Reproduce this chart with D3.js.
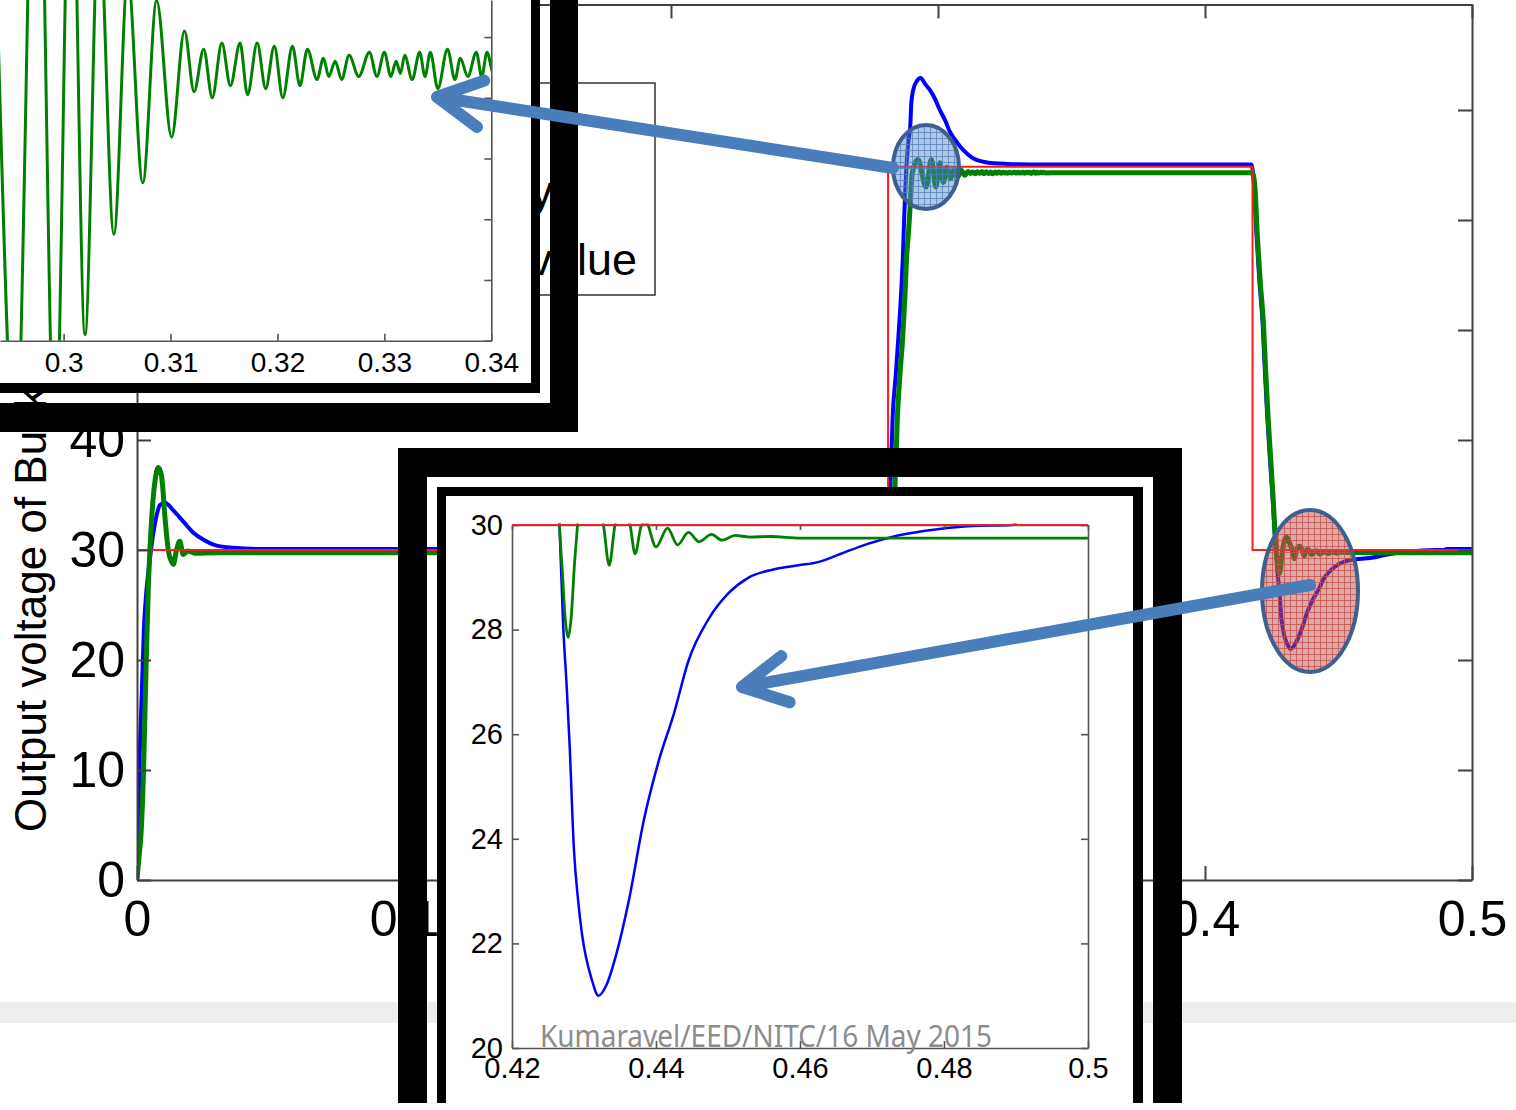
<!DOCTYPE html>
<html>
<head>
<meta charset="utf-8">
<script src="https://cdn.jsdelivr.net/npm/d3@7"></script>
<style>
  html, body { margin: 0; padding: 0; background: #fff; }
  svg { display: block; }
</style>
</head>
<body>
<svg id="slide" width="1516" height="1110"></svg>
<script>
// ticks
const mainXTicks = [0, 0.1, 0.2, 0.3, 0.4, 0.5];
const mainYTicks = [0, 10, 20, 30, 40, 50, 60, 70];
const zoom1XTicks = [0.3, 0.31, 0.32, 0.33, 0.34];
const zoom1YTicks = [63.4, 63.6, 63.8, 64.0, 64.2, 64.4];
const zoom2XTicks = [0.42, 0.44, 0.46, 0.48, 0.5];
const zoom2YTicks = [20, 22, 24, 26, 28, 30];

const legendLabels = ["PID", "Fuzzy", "Reference value"];
const yLabel = "Output voltage of Buck converter (V)";
const footer = "Kumaravel/EED/NITC/16 May 2015";

// reference voltage [t (s), V]
const redPts = [[0, 30], [0.2813, 30], [0.2813, 64.85], [0.4178, 64.85], [0.4178, 30], [0.5, 30]];

// blue trace
const bluePts = [
  [0, 0], [0.0004, 4.5], [0.001, 11.2], [0.0018, 17], [0.0026, 22.9], [0.0036, 26.5], [0.0045, 28.5],
  [0.0055, 30.5], [0.0061, 31.5], [0.0075, 33.3], [0.0086, 34.1], [0.0105, 34.3], [0.0136, 33.6],
  [0.0173, 32.6], [0.021, 31.6], [0.0248, 30.95], [0.0298, 30.4], [0.036, 30.2], [0.045, 30.1],
  [0.2816, 30.1], [0.2822, 36], [0.283, 42], [0.2842, 46], [0.2852, 49.5], [0.2861, 53], [0.2868, 56.5],
  [0.2874, 60.6], [0.2881, 64.5], [0.2887, 66.7], [0.2896, 68.5], [0.29, 70.6], [0.2907, 71.8],
  [0.292, 72.6], [0.2935, 72.9], [0.2951, 72.4], [0.297, 71.8], [0.2989, 71], [0.3007, 70],
  [0.3026, 69.1], [0.3045, 68], [0.3064, 67.3], [0.3082, 66.7], [0.3108, 66.05], [0.3133, 65.6],
  [0.317, 65.3], [0.3208, 65.15], [0.3258, 65.1], [0.34, 65.05],
  [0.4174, 65.05], [0.4183, 63.3], [0.4193, 58.6], [0.4203, 54.7], [0.4216, 50.5], [0.4224, 46.4],
  [0.4233, 42.2], [0.4243, 38.3], [0.4254, 34.4], [0.4261, 31.6], [0.4266, 30], [0.4271, 28.1],
  [0.4276, 26.9], [0.428, 25.8], [0.4286, 23.8], [0.4292, 22.8], [0.4297, 22.2], [0.4311, 21.3],
  [0.432, 21.0], [0.4331, 21.2], [0.4345, 21.8], [0.4362, 22.8], [0.4383, 24.35], [0.4404, 25.5],
  [0.4425, 26.4], [0.4445, 27.4], [0.4473, 28.2], [0.4501, 28.7], [0.4528, 28.99], [0.4563, 29.15],
  [0.4598, 29.23], [0.4625, 29.29], [0.4653, 29.43], [0.4694, 29.64], [0.4736, 29.8], [0.4791, 29.92],
  [0.4839, 29.98], [0.4895, 30.0], [0.4905, 30.1], [0.5, 30.1]
];

// green trace
const greenPts = [
  [0, 0], [0.0005, 1.45], [0.0017, 5], [0.0024, 9.5], [0.003, 15.4], [0.0036, 21.2], [0.0043, 27],
  [0.0055, 32.9], [0.0067, 36.2], [0.008, 37.5], [0.0092, 36.7], [0.0105, 32.9], [0.0117, 30],
  [0.013, 28.9], [0.0136, 28.7], [0.0148, 30], [0.016, 30.8], [0.0173, 29.6], [0.019, 29.9],
  [0.022, 29.7], [0.03, 29.75],
  [0.2831, 29.75], [0.2839, 35.8], [0.2848, 42.1], [0.2858, 46.1], [0.2868, 49.4], [0.2876, 53],
  [0.2882, 56.4], [0.2891, 59.4], [0.2897, 61.8], [0.2903, 64.2],
  [0.2925, 65.5], [0.2955, 63.0], [0.2975, 65.5], [0.2992, 63.0], [0.3007, 65.2], [0.302, 63.42],
  [0.3033, 64.8], [0.3047, 63.75], [0.306, 64.6], [0.3074, 63.92], [0.3087, 64.52], [0.3101, 64.07],
  [0.3113, 64.42], [0.3122, 64.22], [0.3131, 64.36], [0.3139, 64.2], [0.3148, 64.38], [0.3156, 64.24],
  [0.3165, 64.38], [0.3172, 64.21], [0.3181, 64.38], [0.3189, 64.23], [0.3197, 64.37], [0.3205, 64.2],
  [0.3214, 64.37], [0.3221, 64.24], [0.3228, 64.36], [0.3237, 64.26], [0.3243, 64.33], [0.3248, 64.27],
  [0.3254, 64.32], [0.326, 64.26], [0.3267, 64.34], [0.3276, 64.27], [0.3286, 64.35], [0.3293, 64.27],
  [0.33, 64.35], [0.3306, 64.27], [0.3311, 64.32], [0.3315, 64.28], [0.3319, 64.34], [0.3326, 64.26],
  [0.3333, 64.35], [0.3338, 64.27], [0.3343, 64.35], [0.335, 64.23], [0.3359, 64.36], [0.3366, 64.26],
  [0.3371, 64.33], [0.3378, 64.27], [0.3386, 64.35], [0.3391, 64.27], [0.3396, 64.35], [0.3402, 64.28],
  [0.345, 64.3],
  [0.4177, 64.3], [0.4186, 63.3], [0.4196, 58.6], [0.4206, 54.7], [0.4219, 50.5], [0.4227, 46.4],
  [0.4236, 42.2], [0.4246, 38.3], [0.4256, 34.4], [0.4262, 31.6], [0.4266, 30.0], [0.427, 29.1],
  [0.4274, 28.2], [0.4278, 27.85], [0.4282, 28.2], [0.4287, 29.3], [0.4291, 30.0], [0.4305, 31.2],
  [0.432, 30.4], [0.4327, 30.0], [0.4335, 29.23], [0.4343, 30.0], [0.4353, 30.35], [0.4364, 30.0],
  [0.4371, 29.45], [0.438, 30.0], [0.4386, 30.05], [0.44, 29.58], [0.4416, 29.94], [0.443, 29.62],
  [0.4445, 29.86], [0.446, 29.68], [0.4477, 29.82], [0.4492, 29.71], [0.451, 29.8], [0.453, 29.77],
  [0.456, 29.78], [0.46, 29.75], [0.5, 29.75]
];

const FONT = "'Liberation Sans', Arial, Helvetica, sans-serif";
const svg = d3.select("#slide");
const defs = svg.append("defs");

svg.append("rect").attr("width", 1516).attr("height", 1110).attr("fill", "#fff");
// footer bar of the slide
svg.append("rect").attr("x", 0).attr("y", 1002).attr("width", 1516).attr("height", 21).attr("fill", "#ededed");

function clipRect(id, x, y, w, h) {
  defs.append("clipPath").attr("id", id).append("rect")
    .attr("x", x).attr("y", y).attr("width", w).attr("height", h);
}

function gridPattern(id, color, alpha) {
  const p = defs.append("pattern").attr("id", id)
    .attr("width", 6).attr("height", 6).attr("patternUnits", "userSpaceOnUse");
  p.append("rect").attr("width", 6).attr("height", 6).attr("fill", color).attr("fill-opacity", alpha);
  p.append("path").attr("d", "M0 0.5H6M0.5 0V6")
    .attr("stroke", color).attr("stroke-opacity", 0.75).attr("stroke-width", 1);
}
gridPattern("gridBlue", "#4f81bd", 0.45);
gridPattern("gridRed", "#c0504d", 0.5);

function styleAxis(g, size, color, width) {
  g.attr("font-size", size).attr("font-family", FONT);
  g.selectAll("path, line").attr("stroke", color).attr("stroke-width", width);
  g.selectAll("text").attr("fill", "#000");
}

// draws the three traces of one panel through its scales
function drawTraces(g, xs, ys, clipId, w) {
  const smooth = d3.line().x(d => xs(d[0])).y(d => ys(d[1])).curve(d3.curveMonotoneX);
  const straight = d3.line().x(d => xs(d[0])).y(d => ys(d[1]));
  const layer = g.append("g").attr("clip-path", `url(#${clipId})`).attr("fill", "none")
    .attr("stroke-linejoin", "round");
  layer.append("path").attr("d", smooth(bluePts)).attr("stroke", "#0000ff").attr("stroke-width", w[0]);
  layer.append("path").attr("d", smooth(greenPts)).attr("stroke", "#008000").attr("stroke-width", w[1]);
  layer.append("path").attr("d", straight(redPts)).attr("stroke", "#ff1a1a").attr("stroke-width", w[2]);
}

// ---------------- main chart ----------------
const x = d3.scaleLinear().domain([0, 0.5]).range([137, 1472]);
const y = d3.scaleLinear().domain([0, 79.6]).range([880, 4.4]);
clipRect("clipMain", 137, 4.4, 1335, 875.6);

const main = svg.append("g");

// legend (mostly hidden behind the first zoom box)
const legend = main.append("g");
legend.append("rect").attr("x", 250).attr("y", 83).attr("width", 405).attr("height", 212)
  .attr("fill", "#fff").attr("stroke", "#333").attr("stroke-width", 1.5);
legend.selectAll("text").data(legendLabels).join("text")
  .attr("x", (d, i) => [520, 553, 637][i])
  .attr("y", (d, i) => 139 + i * 68)
  .attr("text-anchor", "end")
  .attr("font-family", FONT).attr("font-size", 45).attr("fill", "#000")
  .text(d => d);

drawTraces(main, x, y, "clipMain", [4, 5, 2]);

main.append("g").attr("transform", "translate(0,880)")
  .call(d3.axisBottom(x).tickValues(mainXTicks).tickFormat(d3.format("~g"))
    .tickSize(-14).tickSizeOuter(0).tickPadding(20))
  .call(g => styleAxis(g, 50, "#404040", 2));
main.append("g").attr("transform", `translate(0,${y(79.6)})`)
  .call(d3.axisTop(x).tickValues(mainXTicks).tickFormat("").tickSize(-14).tickSizeOuter(0))
  .call(g => styleAxis(g, 50, "#404040", 2));
main.append("g").attr("transform", "translate(137,0)")
  .call(d3.axisLeft(y).tickValues(mainYTicks).tickFormat(d3.format("d"))
    .tickSize(-14).tickSizeOuter(0).tickPadding(12))
  .call(g => styleAxis(g, 50, "#404040", 2));
main.append("g").attr("transform", "translate(1472,0)")
  .call(d3.axisRight(y).tickValues(mainYTicks).tickFormat("").tickSize(-14).tickSizeOuter(0))
  .call(g => styleAxis(g, 50, "#404040", 2));

main.append("text")
  .attr("transform", "translate(46,832) rotate(-90)")
  .attr("font-family", FONT).attr("font-size", 44).attr("fill", "#000")
  .text(yLabel);

// ---------------- zoom box 1 (step-up ringing) ----------------
const z1 = svg.append("g");
z1.append("rect").attr("x", -50).attr("y", -50).attr("width", 590).attr("height", 443).attr("fill", "#000");
z1.append("rect").attr("x", -50).attr("y", -50).attr("width", 581).attr("height", 433).attr("fill", "#fff");
z1.append("rect").attr("x", 550).attr("y", -50).attr("width", 28).attr("height", 482).attr("fill", "#000");
z1.append("rect").attr("x", -50).attr("y", 403).attr("width", 628).attr("height", 29).attr("fill", "#000");

const x1 = d3.scaleLinear().domain([0.29405, 0.34]).range([0, 491.3]);
const y1 = d3.scaleLinear().domain([63.4, 64.522]).range([340.7, 0]);
clipRect("clipZ1", 0, 0, 491.3, 340.7);
drawTraces(z1, x1, y1, "clipZ1", [3, 3, 2]);

z1.append("g").attr("transform", "translate(0,340.7)")
  .call(d3.axisBottom(x1).tickValues(zoom1XTicks).tickFormat(d3.format("~g"))
    .tickSize(-7).tickSizeOuter(0).tickPadding(11))
  .call(g => styleAxis(g, 28, "#555", 1.6));
z1.append("g").attr("transform", "translate(491.3,0)")
  .call(d3.axisRight(y1).tickValues(zoom1YTicks).tickFormat("").tickSize(-7).tickSizeOuter(0))
  .call(g => styleAxis(g, 28, "#555", 1.6));

// ---------------- zoom box 2 (step-down undershoot) ----------------
const z2 = svg.append("g");
z2.append("rect").attr("x", 398).attr("y", 448).attr("width", 29).attr("height", 655).attr("fill", "#000");
z2.append("rect").attr("x", 1153).attr("y", 448).attr("width", 29).attr("height", 655).attr("fill", "#000");
z2.append("rect").attr("x", 398).attr("y", 448).attr("width", 784).attr("height", 29).attr("fill", "#000");
z2.append("rect").attr("x", 437).attr("y", 487).attr("width", 706).attr("height", 616).attr("fill", "#000");
z2.append("rect").attr("x", 446).attr("y", 496).attr("width", 687).attr("height", 607).attr("fill", "#fff");

const x2 = d3.scaleLinear().domain([0.42, 0.5]).range([512, 1088]);
const y2 = d3.scaleLinear().domain([20, 30]).range([1048, 525]);
clipRect("clipZ2", 512, 523.5, 576, 524.5);
drawTraces(z2, x2, y2, "clipZ2", [2.5, 2.8, 1.6]);

z2.append("g").attr("transform", "translate(0,1048)")
  .call(d3.axisBottom(x2).tickValues(zoom2XTicks).tickFormat(d3.format("~g"))
    .tickSize(-7).tickSizeOuter(0).tickPadding(9.5))
  .call(g => styleAxis(g, 29, "#555", 1.6));
z2.append("g").attr("transform", "translate(0,525)")
  .call(d3.axisTop(x2).tickValues(zoom2XTicks).tickFormat("").tickSize(-5).tickSizeOuter(0))
  .call(g => styleAxis(g, 29, "#555", 1.6));
z2.append("g").attr("transform", "translate(512,0)")
  .call(d3.axisLeft(y2).tickValues(zoom2YTicks).tickFormat(d3.format("d"))
    .tickSize(-7).tickSizeOuter(0).tickPadding(9))
  .call(g => styleAxis(g, 29, "#555", 1.6));
z2.append("g").attr("transform", "translate(1088,0)")
  .call(d3.axisRight(y2).tickValues(zoom2YTicks).tickFormat("").tickSize(-7).tickSizeOuter(0))
  .call(g => styleAxis(g, 29, "#555", 1.6));
// red reference redrawn on top of the box edge
z2.append("path").attr("d", d3.line().x(d => x2(d[0])).y(d => y2(d[1]))([[0.42, 30], [0.5, 30]]))
  .attr("stroke", "#ff1a1a").attr("stroke-width", 1.6);

// ---------------- highlight ellipses and arrows ----------------
svg.append("ellipse").attr("cx", 926).attr("cy", 167).attr("rx", 33).attr("ry", 42)
  .attr("fill", "url(#gridBlue)").attr("stroke", "#3f5f8d").attr("stroke-width", 4);
svg.append("ellipse").attr("cx", 1310).attr("cy", 591).attr("rx", 48).attr("ry", 81)
  .attr("fill", "url(#gridRed)").attr("stroke", "#3f5f8d").attr("stroke-width", 4);

function arrow(x0, y0, x1, y1) {
  const a = Math.atan2(y0 - y1, x0 - x1), L = 50, s = 28 * Math.PI / 180;
  const p = d3.path();
  p.moveTo(x0, y0); p.lineTo(x1, y1);
  p.moveTo(x1 + L * Math.cos(a - s), y1 + L * Math.sin(a - s));
  p.lineTo(x1, y1);
  p.lineTo(x1 + L * Math.cos(a + s), y1 + L * Math.sin(a + s));
  svg.append("path").attr("d", p.toString()).attr("fill", "none")
    .attr("stroke", "#4a7ebb").attr("stroke-width", 12)
    .attr("stroke-linecap", "round").attr("stroke-linejoin", "round");
}
arrow(893, 168, 437, 97);
arrow(1310, 585, 742, 687);

svg.append("text").attr("x", 540).attr("y", 1047)
  .attr("font-family", "'Noto Sans', 'Open Sans', sans-serif").attr("font-size", 30)
  .attr("fill", "#8c8c8c")
  .attr("textLength", 452).attr("lengthAdjust", "spacingAndGlyphs")
  .text(footer);
</script>
</body>
</html>
